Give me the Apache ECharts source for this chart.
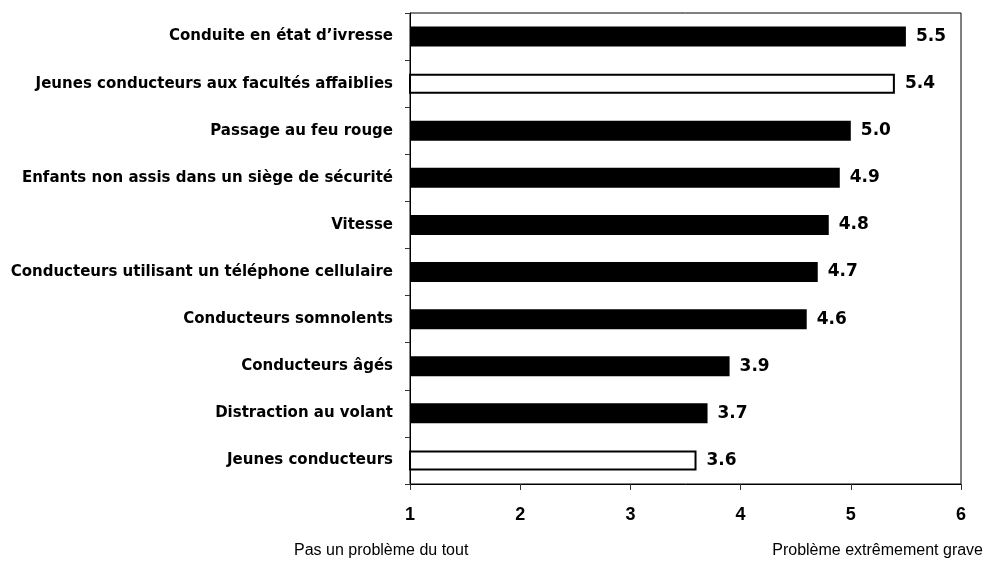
<!DOCTYPE html>
<html>
<head>
<meta charset="utf-8">
<script src="https://cdn.jsdelivr.net/npm/echarts@6/dist/echarts.min.js"></script>
<style>
  html, body { margin: 0; padding: 0; background: #fff; }
  #chart { width: 985px; height: 561px; }
</style>
</head>
<body>
<div id="chart"></div>
<script>
// Gravité perçue des comportements de conduite (échelle 1 à 6)
const categories = [
  "Conduite en état d\u2019ivresse",
  "Jeunes conducteurs aux facultés affaiblies",
  "Passage au feu rouge",
  "Enfants non assis dans un siège de sécurité",
  "Vitesse",
  "Conducteurs utilisant un téléphone cellulaire",
  "Conducteurs somnolents",
  "Conducteurs âgés",
  "Distraction au volant",
  "Jeunes conducteurs"
];
const scores = [5.5, 5.4, 5.0, 4.9, 4.8, 4.7, 4.6, 3.9, 3.7, 3.6];
// Catégories dessinées en barres blanches à contour noir
const outlined = [false, true, false, false, false, false, false, false, false, true];
const xTicks = [1, 2, 3, 4, 5, 6];
const lowLabel = "Pas un problème du tout";
const highLabel = "Problème extrêmement grave";

const chart = echarts.init(document.getElementById('chart'), null, { renderer: 'canvas' });

const barData = scores.map((v, i) => ({
  value: v,
  itemStyle: outlined[i]
    ? { color: '#ffffff', borderColor: '#000000', borderWidth: 2 }
    : { color: '#000000', borderColor: '#000000', borderWidth: 0 }
}));

chart.setOption({
  backgroundColor: '#ffffff',
  animation: false,
  grid: {
    left: 410, right: 24, top: 13, bottom: 77,
    show: true, borderColor: '#000000', borderWidth: 1,
    backgroundColor: 'transparent'
  },
  xAxis: {
    type: 'value',
    min: xTicks[0],
    max: xTicks[xTicks.length - 1],
    interval: 1,
    axisLine: { show: true, lineStyle: { color: '#000000', width: 1 } },
    axisTick: { show: true, length: 6, lineStyle: { color: '#333333' } },
    splitLine: { show: false },
    axisLabel: {
      margin: 22,
      color: '#000000',
      fontFamily: 'Liberation Sans',
      fontWeight: 'bold',
      fontSize: 18,
      formatter: v => String(v)
    }
  },
  yAxis: {
    type: 'category',
    inverse: true,
    data: categories,
    axisLine: { show: true, lineStyle: { color: '#000000', width: 1 } },
    axisTick: { show: true, length: 5, alignWithLabel: false, lineStyle: { color: '#333333' } },
    axisLabel: {
      margin: 17,
      color: '#000000',
      fontFamily: 'DejaVu Sans',
      fontWeight: 'bold',
      fontSize: 15
    }
  },
  series: [{
    type: 'bar',
    data: barData,
    barWidth: 20,
    clip: true,
    label: {
      show: true,
      position: 'right',
      distance: 10,
      color: '#000000',
      fontFamily: 'DejaVu Sans',
      fontWeight: 'bold',
      fontSize: 17,
      formatter: p => p.value.toFixed(1)
    }
  }],
  graphic: [
    {
      type: 'text', left: 294, top: 543,
      style: { text: lowLabel, fill: '#000000', font: '16px "Liberation Sans"' }
    },
    {
      type: 'text', right: 2, top: 543,
      style: { text: highLabel, fill: '#000000', font: '16px "Liberation Sans"' }
    }
  ]
});
</script>
</body>
</html>
